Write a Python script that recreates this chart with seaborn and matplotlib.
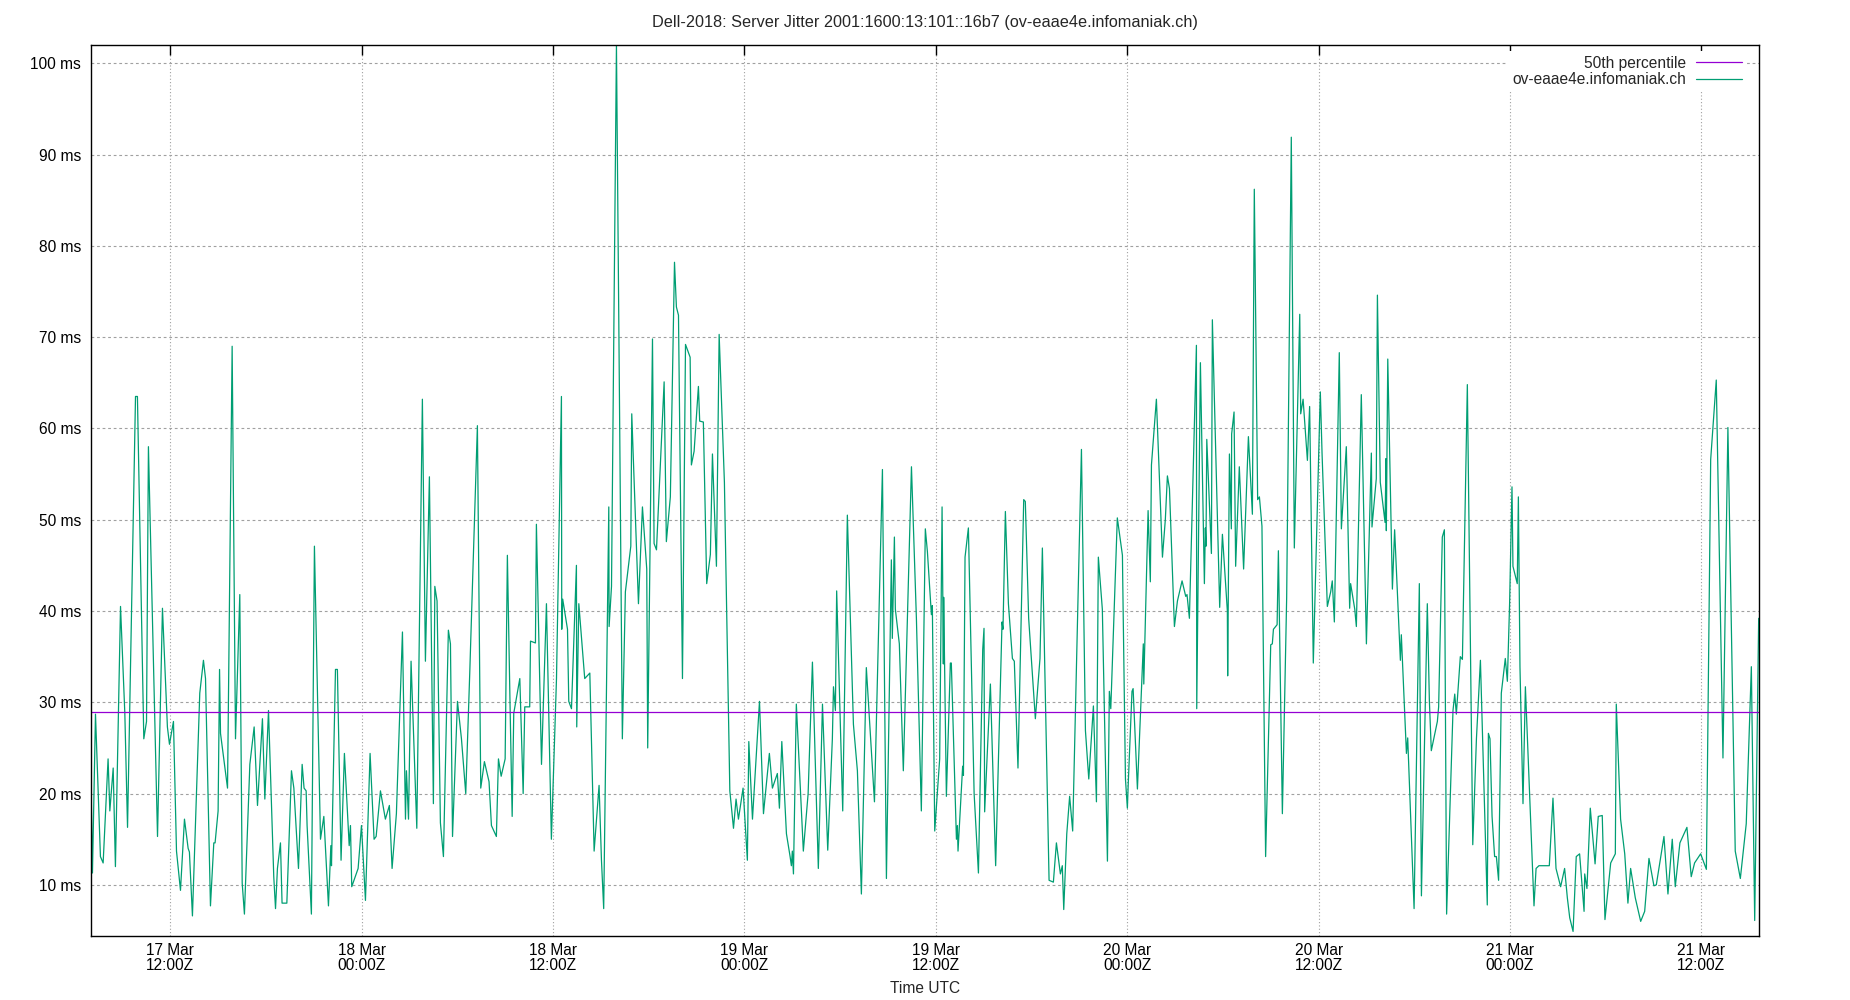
import numpy as np
import pandas as pd
import matplotlib
matplotlib.use("Agg")
import matplotlib.pyplot as plt
import matplotlib.dates as mdates
import seaborn as sns

title = "Dell-2018: Server Jitter 2001:1600:13:101::16b7 (ov-eaae4e.infomaniak.ch)"
series_name = "ov-eaae4e.infomaniak.ch"
p50_label = "50th percentile"
p50_ms = 28.9
x_label = "Time UTC"
base_time = "2018-03-17 00:00"
x_start_hours = 7.0
x_end_hours = 111.62
y_range = (4.4, 102.0)
y_ticks = [10, 20, 30, 40, 50, 60, 70, 80, 90, 100]
x_tick_hours = [12, 24, 36, 48, 60, 72, 84, 96, 108]

# hours since 2018-03-17 00:00 UTC
hours = [
    7.01, 7.11, 7.30, 7.61, 7.78, 8.09, 8.20, 8.41, 8.55, 8.87, 9.14, 9.31, 9.81, 9.93,
    10.33, 10.50, 10.62, 11.19, 11.50, 11.81, 11.94, 12.19, 12.38, 12.63, 12.88, 13.11,
    13.19, 13.38, 13.84, 14.07, 14.20, 14.51, 14.72, 14.80, 14.99, 15.08, 15.14, 15.58,
    15.87, 16.08, 16.35, 16.50, 16.64, 16.98, 17.25, 17.46, 17.77, 17.92, 18.15, 18.48,
    18.59, 18.71, 18.90, 19.00, 19.30, 19.59, 19.74, 20.03, 20.26, 20.38, 20.51, 20.57,
    20.84, 21.03, 21.41, 21.62, 21.91, 22.06, 22.10, 22.35, 22.47, 22.70, 22.91, 23.21,
    23.29, 23.37, 23.77, 23.98, 24.23, 24.52,
    24.77, 24.90, 25.17, 25.48, 25.73, 25.90, 26.17, 26.55, 26.74, 26.80, 26.93, 27.09,
    27.45, 27.80, 27.99, 28.24, 28.49, 28.58, 28.72, 28.93, 29.12, 29.43, 29.56, 29.69,
    30.00, 30.25, 30.52, 30.77, 31.25, 31.46, 31.69, 31.98, 32.13, 32.44, 32.57, 32.74,
    32.99, 33.13, 33.30,
    33.43, 33.53, 33.91, 34.12, 34.22, 34.53, 34.58, 34.89, 34.95, 35.27, 35.58, 35.89,
    36.21, 36.52, 36.54, 36.60, 36.90, 36.98, 37.15, 37.46, 37.48, 37.61, 37.98, 38.30,
    38.57, 38.88, 39.03, 39.17, 39.49, 39.51, 39.66, 39.97, 40.34, 40.53, 40.87, 40.93,
    41.35, 41.60, 41.87, 41.93,
    42.23, 42.33, 42.48, 42.96, 43.10, 43.35, 43.61, 43.73, 43.86, 44.11, 44.30, 44.59,
    44.67, 44.84, 45.11, 45.19, 45.42, 45.63, 45.86, 45.99, 46.24, 46.41, 46.74, 47.08,
    47.31, 47.47, 47.62, 47.91, 48.18, 48.27, 48.50, 48.94, 49.19, 49.56, 49.75, 50.06,
    50.19, 50.34, 50.63, 50.86,
    50.94, 51.00, 51.07, 51.25, 51.69, 51.99, 52.26, 52.63, 52.89, 53.22, 53.51, 53.58,
    53.70, 53.78, 54.16, 54.45, 54.83, 55.08, 55.33, 55.64, 56.15, 56.65, 56.90, 57.21,
    57.27, 57.40, 57.46, 57.71, 57.96, 58.47, 58.78, 59.09, 59.34, 59.47, 59.64,
    59.72, 59.78, 59.93, 60.24, 60.39, 60.47, 60.49, 60.66, 60.91, 60.97, 61.29, 61.35,
    61.39, 61.68, 61.73, 61.83, 62.04, 62.40, 62.67, 62.94, 63.02, 63.06, 63.42, 63.75,
    64.15, 64.21, 64.36, 64.55, 64.80, 64.92, 65.15, 65.51, 65.61, 65.82, 66.24, 66.53,
    66.68, 67.10, 67.37, 67.56, 67.81, 67.93, 68.02, 68.21,
    68.39, 68.58, 69.13, 69.38, 69.59, 69.88, 70.07, 70.19, 70.44, 70.76, 70.88, 70.97,
    71.38, 71.70, 71.72, 71.89, 72.01, 72.07, 72.30, 72.37, 72.64, 73.01, 73.04, 73.31,
    73.45, 73.52, 73.83, 74.21, 74.39, 74.52, 74.65, 74.96, 75.15, 75.44, 75.67, 75.75,
    75.90, 76.34, 76.36, 76.59, 76.84, 76.90, 76.94, 76.99,
    77.28, 77.34, 77.80, 77.97, 78.28, 78.30, 78.41, 78.53, 78.55, 78.70, 78.80, 79.03,
    79.30, 79.60, 79.85, 79.97, 80.18, 80.29, 80.45, 80.68, 81.00, 81.10, 81.17, 81.40,
    81.48, 81.73, 82.00, 82.29, 82.48, 82.82, 82.88, 83.03, 83.30, 83.44, 83.67, 84.11,
    84.22, 84.55, 84.76, 84.86, 84.99, 85.30, 85.43, 85.74,
    85.95, 86.01, 86.27, 86.37, 86.68, 87.00, 87.31, 87.35, 87.62, 87.69, 87.87, 88.17,
    88.23, 88.25, 88.34, 88.63, 88.77, 89.13, 89.19, 89.51, 89.59, 89.99, 90.32, 90.45,
    90.82, 90.95, 91.07, 91.45, 91.53, 91.76, 91.89, 92.03, 92.43, 92.54, 92.64, 92.89,
    93.02, 93.33, 93.67, 93.90, 94.15, 94.58, 94.65, 94.75,
    94.88, 95.04, 95.15, 95.29, 95.46, 95.71, 95.84, 95.98, 96.13, 96.19, 96.46, 96.53,
    96.63, 96.82, 96.97, 97.51, 97.64, 97.82, 98.47, 98.70, 98.89, 99.18, 99.43, 99.60,
    99.75, 99.96, 100.16, 100.37, 100.65, 100.69, 100.83, 101.04, 101.34, 101.54, 101.79,
    101.96, 102.32, 102.61, 102.67, 102.94, 103.20, 103.40,
    103.57, 103.86, 104.20, 104.45, 104.72, 105.03, 105.18, 105.66, 105.91, 106.18, 106.37,
    106.66, 107.10, 107.37, 107.58, 107.96, 108.32, 108.59, 108.94, 109.36, 109.67, 110.13,
    110.45, 110.82, 111.14, 111.35, 111.60,
]

jitter_ms = [
    22.5, 11.3, 28.7, 13.1, 12.4, 23.8, 18.1, 22.8, 12.0, 40.5, 28.8, 16.3, 63.5, 63.5,
    26.0, 27.9, 58.0, 15.3, 40.3, 27.3, 25.4, 27.9, 13.7, 9.4, 17.2, 14.0,
    13.6, 6.6, 31.0, 34.6, 32.6, 7.7, 14.6, 14.6, 18.1, 33.6, 26.6, 20.6,
    69.0, 26.0, 41.8, 10.2, 6.8, 23.2, 27.3, 18.7, 28.2, 19.4, 29.1, 10.9,
    7.4, 11.8, 14.6, 8.0, 8.0, 22.5, 20.6, 11.8, 23.2, 20.6, 20.3, 16.5,
    6.8, 47.1, 15.0, 17.5, 7.7, 14.3, 12.1, 33.6, 33.6, 12.7, 24.4, 14.3,
    16.5, 9.8, 11.8, 16.5, 8.3, 24.4,
    15.0, 15.3, 20.3, 17.2, 18.7, 11.8, 17.8, 37.7, 17.2, 22.5, 17.2, 34.5,
    16.2, 63.2, 34.5, 54.7, 18.9, 42.7, 41.1, 16.8, 13.1, 37.9, 36.4, 15.3,
    30.1, 26.0, 20.0, 33.2, 60.3, 20.6, 23.5, 21.3, 16.5, 15.3, 23.8, 21.9,
    23.8, 46.1, 29.5,
    17.5, 28.8, 32.6, 20.0, 29.5, 29.5, 36.7, 36.5, 49.5, 23.2, 40.8, 15.0,
    32.6, 63.5, 38.0, 41.3, 38.0, 30.1, 29.3, 45.0, 27.3, 40.8, 32.6, 33.2,
    13.7, 20.9, 12.7, 7.4, 51.4, 38.3, 42.7, 102.0, 26.0, 42.1, 47.1, 61.6,
    40.8, 51.4, 44.6, 25.0,
    69.8, 47.4, 46.7, 65.1, 47.6, 52.5, 78.2, 73.3, 72.4, 32.6, 69.2, 67.8,
    56.0, 57.5, 64.6, 60.8, 60.7, 43.0, 46.2, 57.2, 44.9, 70.3, 54.1, 20.3,
    16.2, 19.4, 17.2, 20.6, 12.7, 25.7, 17.2, 30.1, 17.8, 24.4, 20.6, 22.2,
    18.4, 25.7, 15.6, 13.1,
    12.1, 13.7, 11.2, 29.8, 13.7, 20.0, 34.4, 11.8, 29.8, 13.8, 26.0, 31.7,
    29.1, 42.2, 18.1, 50.5, 27.6, 22.5, 9.0, 33.8, 19.1, 55.5, 10.7, 45.6,
    37.0, 48.1, 40.2, 36.4, 22.5, 55.8, 39.2, 18.1, 49.0, 46.5, 41.8,
    39.6, 40.6, 15.9, 23.8, 51.4, 34.2, 41.5, 19.7, 34.3, 34.3, 15.0, 16.5,
    13.7, 23.0, 22.0, 45.9, 49.1, 20.0, 11.3, 35.8, 38.1, 18.0, 32.0, 12.1,
    38.8, 38.0, 50.9, 40.8, 34.8, 34.5, 22.8, 52.2, 52.0, 39.2, 28.2, 34.8,
    46.9, 10.5, 10.3, 14.6, 11.2, 12.1, 7.3, 15.6,
    19.7, 15.9, 57.7, 26.9, 21.6, 29.6, 19.1, 45.9, 40.2, 12.6, 31.2, 29.3,
    50.2, 46.1, 43.3, 21.6, 18.4, 21.3, 31.2, 31.5, 20.5, 36.4, 32.0, 51.0,
    43.2, 56.0, 63.2, 45.9, 50.0, 54.8, 53.4, 38.3, 41.1, 43.3, 41.6, 41.8,
    39.2, 69.1, 29.3, 67.2, 43.0, 49.1, 47.1, 58.8,
    46.3, 71.9, 40.4, 48.4, 40.0, 32.9, 57.2, 49.0, 59.4, 61.8, 44.9, 55.8,
    44.6, 59.1, 50.6, 86.2, 52.2, 52.5, 49.3, 13.1, 36.3, 36.4, 38.0, 38.5,
    46.6, 17.8, 41.5, 91.9, 46.9, 72.5, 61.6, 63.2, 56.5, 62.4, 34.3, 64.0,
    57.2, 40.5, 42.1, 43.3, 38.8, 68.3, 49.0, 58.0,
    40.3, 43.0, 40.2, 38.3, 63.7, 36.4, 57.3, 49.2, 54.5, 74.6, 54.1, 49.7,
    56.7, 48.8, 67.6, 42.4, 48.9, 34.6, 37.4, 24.4, 26.1, 7.4, 43.0, 8.8,
    40.8, 30.1, 24.7, 27.9, 29.5, 48.1, 48.9, 6.8, 29.1, 30.9, 28.7, 35.0,
    34.7, 64.8, 14.4, 26.0, 34.6, 7.8, 26.6, 26.0,
    17.5, 13.1, 13.1, 10.5, 31.0, 34.8, 32.3, 40.8, 53.6, 44.9, 43.0, 52.5,
    33.9, 18.9, 31.7, 7.7, 11.8, 12.1, 12.1, 19.5, 11.8, 9.8, 11.8, 8.6,
    6.4, 4.9, 13.1, 13.4, 7.1, 11.2, 9.6, 18.4, 12.3, 17.5, 17.6,
    6.2, 12.4, 13.4, 29.8, 17.2, 13.4, 8.0,
    11.8, 8.6, 6.0, 7.1, 12.9, 9.9, 10.0, 15.3, 9.0, 15.0, 9.8,
    14.6, 16.3, 10.9, 12.4, 13.4, 11.7, 56.6, 65.3, 23.9, 60.1, 13.7,
    10.7, 16.7, 33.9, 6.1, 39.2,
]

sns.set_style("white")
plt.rcParams["font.family"] = ["Liberation Sans", "DejaVu Sans"]
plt.rcParams["font.size"] = 11

base = pd.Timestamp(base_time)
df = pd.DataFrame({
    "time": base + pd.to_timedelta(hours, unit="h"),
    "jitter": jitter_ms,
})

W, H = 1850, 1000
fig = plt.figure(figsize=(W / 100, H / 100), dpi=100)
left, right, top, bottom = 90.7, 1759, 45, 936
ax = fig.add_axes([left / W, 1 - bottom / H, (right - left) / W, (bottom - top) / H])

green = "#009e73"
purple = "#9400d3"

sns.lineplot(data=df, x="time", y="jitter", ax=ax, color=green, lw=0.9,
             estimator=None, sort=False, label=series_name)
ax.axhline(p50_ms, color=purple, lw=0.9, label=p50_label)

ax.set_xlim(base + pd.Timedelta(hours=x_start_hours), base + pd.Timedelta(hours=x_end_hours))
ax.set_ylim(*y_range)

ax.set_yticks(y_ticks)
ax.set_yticklabels([f"{v} ms" for v in y_ticks])
ax.set_xticks([base + pd.Timedelta(hours=h) for h in x_tick_hours])
ax.xaxis.set_major_formatter(mdates.DateFormatter("%d %b\n%H:%MZ"))

ax.grid(False)
for yv in y_ticks:
    ax.axhline(yv, color="#a0a0a0", lw=0.8, ls=(0, (2.5, 2.5)), zorder=0)
ax.grid(axis="x", color="#a0a0a0", lw=0.8, ls=(0, (1, 2)))

ax.tick_params(axis="both", direction="in", length=7, width=1, colors="black",
               labelsize=11.2, top=True, right=False)
ax.tick_params(axis="y", pad=7)
ax.tick_params(axis="x", pad=5)
for lbl in ax.get_xticklabels():
    lbl.set_linespacing(1.0)

for sp in ax.spines.values():
    sp.set_color("black")
    sp.set_linewidth(1.0)

ax.set_xlabel(x_label, fontsize=11.2, labelpad=6)
ax.set_ylabel("")

handles, labels = ax.get_legend_handles_labels()
order = [labels.index(p50_label), labels.index(series_name)]
leg = ax.legend([handles[i] for i in order], [labels[i] for i in order],
                loc="upper right", bbox_to_anchor=(1 - 12 / (right - left), 1 - 6 / (bottom - top)),
                markerfirst=False, frameon=True, facecolor="white", edgecolor="none",
                framealpha=1.0, fancybox=False, fontsize=11.2, handlelength=3.0,
                handletextpad=0.6, labelspacing=0.1, borderpad=0.3, borderaxespad=0)

fig.text(0.5, 1 - 23 / H, title, ha="center", va="center", fontsize=11.7)

fig.savefig("out.png", dpi=100)
